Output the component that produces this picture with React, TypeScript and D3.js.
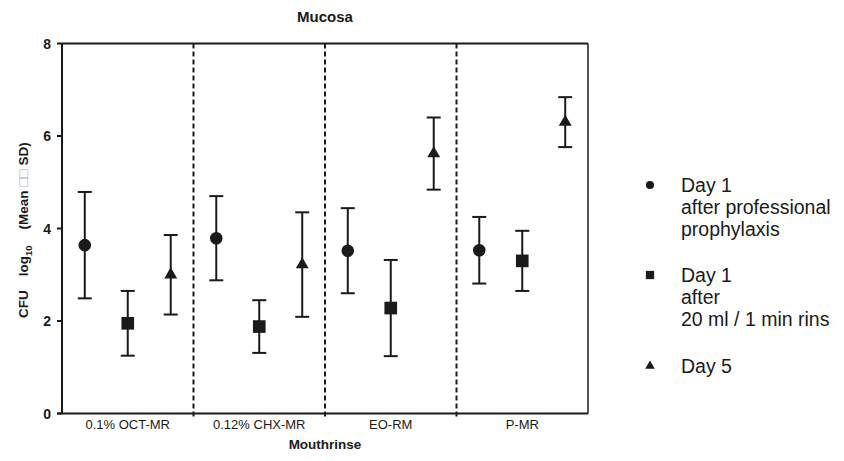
import * as d3 from "d3";

const width = 844;
const height = 461;

const categories = ["0.1% OCT-MR", "0.12% CHX-MR", "EO-RM", "P-MR"];
const seriesNames = ["day1Prof", "day1Rinse", "day5"];

// mean and SD per mouthrinse
const day1ProfMean = [3.64, 3.79, 3.52, 3.53];
const day1ProfSd = [1.15, 0.91, 0.92, 0.72];
const day1RinseMean = [1.95, 1.88, 2.28, 3.3];
const day1RinseSd = [0.7, 0.57, 1.04, 0.65];
const day5Mean = [3.0, 3.22, 5.62, 6.3];
const day5Sd = [0.86, 1.13, 0.78, 0.54];

const yTicks = [0, 2, 4, 6, 8];

const legendLines = [
  ["Day 1", "after professional", "prophylaxis"],
  ["Day 1", "after", "20 ml / 1 min rins"],
  ["Day 5"],
];

const symbols = [d3.symbolCircle, d3.symbolSquare, d3.symbolTriangle];
const symbolSizes = [124, 160, 72];
const legendSizes = [52, 68, 40];

const ink = "#1a1a1a";
const font = "Arial, 'Liberation Sans', Helvetica, sans-serif";

const App = () => {
  const x = d3.scaleBand().domain(categories).range([62, 588]).padding(0);
  const inner = d3
    .scalePoint()
    .domain(seriesNames)
    .range([0, x.bandwidth()])
    .padding(0.53);
  const y = d3.scaleLinear().domain([0, 8]).range([413.5, 43.5]);

  const means = [day1ProfMean, day1RinseMean, day5Mean];
  const sds = [day1ProfSd, day1RinseSd, day5Sd];

  const points = seriesNames.flatMap((s, si) =>
    categories.map((c, ci) => ({
      si,
      cx: x(c) + inner(s),
      m: means[si][ci],
      sd: sds[si][ci],
    }))
  );

  const dividers = categories.slice(1).map((c) => x(c));

  return (
    <svg
      width={width}
      height={height}
      style={{ position: "absolute", left: 0, top: 0, background: "#fff" }}
      fontFamily={font}
    >
      <text x={325} y={22} textAnchor="middle" fontSize={15} fontWeight="bold" fill={ink}>
        Mucosa
      </text>

      {/* frame */}
      <line x1={57} x2={588} y1={y(0)} y2={y(0)} stroke={ink} strokeWidth={2} />
      <line x1={62} x2={588} y1={y(8)} y2={y(8)} stroke={ink} strokeWidth={2} />
      <line x1={62} x2={62} y1={y(0)} y2={y(8)} stroke={ink} strokeWidth={2} />
      <line x1={588} x2={588} y1={y(0)} y2={y(8)} stroke={ink} strokeWidth={1.5} />

      {dividers.map((dx, i) => (
        <line
          key={i}
          x1={dx}
          x2={dx}
          y1={y(8)}
          y2={y(0) + 4}
          stroke={ink}
          strokeWidth={2}
          strokeDasharray="5,3"
        />
      ))}

      {yTicks.map((t) => (
        <g key={t}>
          <line x1={57} x2={62} y1={y(t)} y2={y(t)} stroke={ink} strokeWidth={2} />
          <text
            x={51}
            y={y(t)}
            dy="0.36em"
            textAnchor="end"
            fontSize={14}
            fontWeight="bold"
            fill={ink}
          >
            {t}
          </text>
        </g>
      ))}

      {categories.map((c) => (
        <text
          key={c}
          x={x(c) + x.bandwidth() / 2}
          y={429}
          textAnchor="middle"
          fontSize={13}
          fill={ink}
        >
          {c}
        </text>
      ))}

      <text x={325} y={449} textAnchor="middle" fontSize={13.5} fontWeight="bold" fill={ink}>
        Mouthrinse
      </text>

      <text
        transform="translate(28,318) rotate(-90)"
        fontSize={13.5}
        fontWeight="bold"
        fill={ink}
      >
        <tspan>CFU</tspan>
        <tspan dx={14}>log</tspan>
        <tspan dy={4} fontSize={9.5}>10</tspan>
        <tspan dy={-4} dx={16}>(Mean</tspan>
        <tspan dx={4} fontWeight="normal" fontSize={14} fill="#aaa">□□</tspan>
        <tspan dx={4}>SD)</tspan>
      </text>

      {points.map((p, i) => (
        <g key={i}>
          <line x1={p.cx} x2={p.cx} y1={y(p.m - p.sd)} y2={y(p.m + p.sd)} stroke={ink} strokeWidth={2} />
          <line x1={p.cx - 7} x2={p.cx + 7} y1={y(p.m + p.sd)} y2={y(p.m + p.sd)} stroke={ink} strokeWidth={2} />
          <line x1={p.cx - 7} x2={p.cx + 7} y1={y(p.m - p.sd)} y2={y(p.m - p.sd)} stroke={ink} strokeWidth={2} />
          <path
            transform={`translate(${p.cx},${y(p.m)})`}
            d={d3.symbol(symbols[p.si], symbolSizes[p.si])()}
            fill={ink}
          />
        </g>
      ))}

      {legendLines.map((lines, li) => {
        const ly = [185, 275, 366][li];
        return (
          <g key={li}>
            <path
              transform={`translate(650,${ly})`}
              d={d3.symbol(symbols[li], legendSizes[li])()}
              fill={ink}
            />
            {lines.map((t, k) => (
              <text key={k} x={681} y={ly + 7 + k * 21.8} fontSize={19.5} fill={ink}>
                {t}
              </text>
            ))}
          </g>
        );
      })}
    </svg>
  );
};

export default App;
